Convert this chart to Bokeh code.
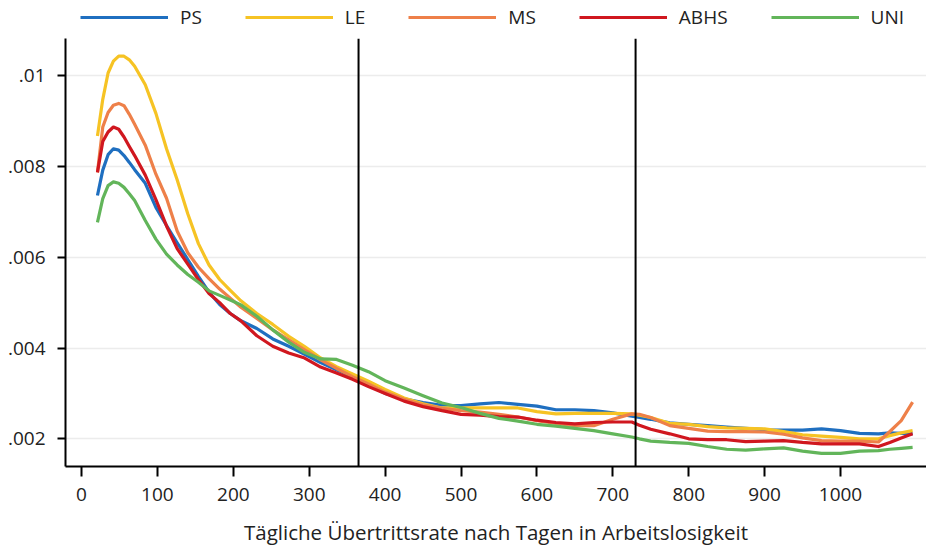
from bokeh.plotting import figure
from bokeh.layouts import column
from bokeh.models import (FixedTicker, CustomJSTickFormatter, Span, Legend, LegendItem)
from bokeh.embed import file_html
from bokeh.resources import INLINE

days = [21, 28, 35, 42, 49, 56, 63, 70, 84, 98, 112, 126, 140, 154, 168, 182, 196, 210,
        231, 252, 273, 294, 315, 336, 357, 378, 400, 425, 450, 475, 500, 525, 550, 575,
        600, 625, 650, 675, 700, 725, 735, 750, 775, 800, 825, 850, 875, 900, 925, 950,
        975, 1000, 1025, 1050, 1065, 1080, 1095]

ps = [0.00736, 0.00792, 0.00826, 0.00839, 0.00836, 0.00824, 0.00809, 0.00793, 0.00763, 0.0071,
      0.0067, 0.00632, 0.00595, 0.00558, 0.00523, 0.00496, 0.00476, 0.0046,
      0.00443, 0.0042, 0.00404, 0.00386, 0.00368, 0.00352, 0.00337, 0.00319, 0.003, 0.00288,
      0.0028, 0.00274, 0.00273, 0.00277, 0.0028, 0.00276,
      0.00272, 0.00264, 0.00264, 0.00262, 0.00257, 0.0025, 0.00247, 0.00243, 0.00235, 0.00232,
      0.00229, 0.00226, 0.00223, 0.0022, 0.00219, 0.00219,
      0.00222, 0.00218, 0.00212, 0.00211, 0.00213, 0.00212, 0.00211]

le = [0.00867, 0.00948, 0.01006, 0.01032, 0.01043, 0.01043, 0.01035, 0.01021, 0.0098, 0.00917,
      0.00839, 0.00771, 0.00696, 0.0063, 0.00583, 0.00551, 0.00527, 0.00504,
      0.00476, 0.00452, 0.00426, 0.00403, 0.00378, 0.00359, 0.00343, 0.00327, 0.00309, 0.0029,
      0.00277, 0.00268, 0.00268, 0.00268, 0.00268, 0.00268,
      0.0026, 0.00255, 0.00256, 0.00256, 0.00256, 0.00255, 0.00252, 0.00247, 0.00234, 0.00232,
      0.00227, 0.00224, 0.00223, 0.00222, 0.00216, 0.00209,
      0.00206, 0.00203, 0.002, 0.002, 0.00207, 0.00213, 0.00218]

ms = [0.00787, 0.00887, 0.00919, 0.00935, 0.00939, 0.00934, 0.00915, 0.00893, 0.00847, 0.00783,
      0.0073, 0.00658, 0.0061, 0.00578, 0.00553, 0.0053, 0.0051, 0.0049,
      0.00465, 0.0044, 0.00418, 0.00396, 0.00374, 0.00355, 0.00337, 0.00321, 0.00303, 0.00287,
      0.00275, 0.00267, 0.00262, 0.00259, 0.00254, 0.00248,
      0.0024, 0.00234, 0.00229, 0.00229, 0.00243, 0.00255, 0.00254, 0.00247, 0.00229, 0.00223,
      0.00217, 0.00216, 0.00216, 0.00215, 0.0021, 0.00202,
      0.00196, 0.00195, 0.00195, 0.00193, 0.00216, 0.0024, 0.00281]

abhs = [0.00787, 0.00855, 0.00876, 0.00887, 0.00882, 0.00865, 0.00844, 0.00824, 0.00781, 0.00727,
        0.00669, 0.00619, 0.00585, 0.00551, 0.0052, 0.005, 0.00476, 0.0046,
        0.00427, 0.00404, 0.00389, 0.00378, 0.00358, 0.00345, 0.00331, 0.00315, 0.003, 0.00283,
        0.00271, 0.00262, 0.00254, 0.00252, 0.00249, 0.00248,
        0.00241, 0.00236, 0.00233, 0.00236, 0.00237, 0.00237, 0.0023, 0.00221, 0.00211, 0.002,
        0.00198, 0.00198, 0.00194, 0.00195, 0.00196, 0.00192,
        0.00189, 0.00189, 0.00189, 0.00183, 0.00192, 0.00202, 0.00211]

uni = [0.00677, 0.00729, 0.00758, 0.00766, 0.00763, 0.00754, 0.0074, 0.00725, 0.00681, 0.0064,
       0.00607, 0.00583, 0.00562, 0.00545, 0.00526, 0.00516, 0.00506, 0.00495,
       0.0047, 0.0044, 0.00413, 0.0039, 0.00376, 0.00375, 0.00362, 0.00348, 0.00328, 0.00312,
       0.00295, 0.00279, 0.00269, 0.00256, 0.00245, 0.00239,
       0.00232, 0.00228, 0.00223, 0.00218, 0.00211, 0.00204, 0.002, 0.00195, 0.00192, 0.0019,
       0.00183, 0.00177, 0.00175, 0.00178, 0.0018, 0.00173,
       0.00168, 0.00168, 0.00173, 0.00174, 0.00177, 0.00179, 0.00181]

series_names = ["PS", "LE", "MS", "ABHS", "UNI"]
series_values = [ps, le, ms, abhs, uni]
series_colors = ["#1f6fc0", "#f6c324", "#ee8049", "#d0171f", "#62b55a"]

x_ticks = [0, 100, 200, 300, 400, 500, 600, 700, 800, 900, 1000]
y_ticks = [0.002, 0.004, 0.006, 0.008, 0.01]
cutoffs = [365, 730]
x_title = "Tägliche Übertrittsrate nach Tagen in Arbeitslosigkeit"

FONT = "Open Sans"
TXT = "#222222"
FS = "19px"

# ---- legend strip (top); its series lie outside its ranges, only the legend shows ----
lg = figure(width=926, height=38, output_backend="svg", toolbar_location=None,
            x_range=(0, 1), y_range=(0, 1), x_axis_location=None, y_axis_location=None,
            min_border_left=0, min_border_right=0, min_border_top=0, min_border_bottom=0)
lg.outline_line_color = None
lg.xgrid.grid_line_color = None
lg.ygrid.grid_line_color = None
items = []
for name, vals, col in zip(series_names, series_values, series_colors):
    r = lg.line(days, vals, line_color=col, line_width=3.2)
    items.append(LegendItem(label=name, renderers=[r]))
legend = Legend(items=items, orientation="horizontal", location=(15, 8),
                glyph_width=88, glyph_height=26, label_height=26, label_standoff=12, spacing=43,
                padding=0, margin=0, border_line_color=None, background_fill_alpha=0,
                label_text_font=FONT, label_text_font_size=FS, label_text_color=TXT)
lg.add_layout(legend, "center")

# ---- main chart ----
p = figure(width=926, height=510, output_backend="svg", toolbar_location=None,
           x_range=(-21.1, 1113.3), y_range=(0.00139, 0.01082),
           min_border_left=65, min_border_right=0, min_border_top=0, min_border_bottom=82)
p.outline_line_color = None
p.background_fill_color = "white"
p.border_fill_color = "white"

p.xgrid.grid_line_color = None
p.ygrid.grid_line_color = "#ececec"
p.ygrid.grid_line_width = 1.5

p.xaxis.ticker = FixedTicker(ticks=x_ticks)
p.yaxis.ticker = FixedTicker(ticks=y_ticks)
p.yaxis.formatter = CustomJSTickFormatter(code="""
var s = tick.toFixed(3).replace(/0+$/, '');
if (s.charAt(0) == '0') { s = s.substring(1); }
return s;
""")
for ax in (p.xaxis[0], p.yaxis[0]):
    ax.axis_line_width = 2
    ax.axis_line_color = "black"
    ax.major_tick_line_width = 2
    ax.major_tick_line_color = "black"
    ax.major_tick_in = 0
    ax.minor_tick_line_color = None
    ax.major_label_text_font = FONT
    ax.major_label_text_font_size = FS
    ax.major_label_text_color = TXT
p.xaxis.major_tick_out = 10
p.xaxis.major_label_standoff = 11
p.yaxis.major_tick_out = 8
p.yaxis.major_label_standoff = 12

p.xaxis.axis_label = x_title
p.xaxis.axis_label_text_font = FONT
p.xaxis.axis_label_text_font_size = "20.5px"
p.xaxis.axis_label_text_font_style = "normal"
p.xaxis.axis_label_text_color = TXT
p.xaxis.axis_label_standoff = 14

for c in cutoffs:
    p.add_layout(Span(location=c, dimension="height", line_color="black", line_width=2))

for name, vals, col in zip(series_names, series_values, series_colors):
    p.line(days, vals, line_color=col, line_width=3.2, line_join="round")

layout = column(lg, p, spacing=0)
open("out.html", "w").write(file_html(layout, INLINE))
